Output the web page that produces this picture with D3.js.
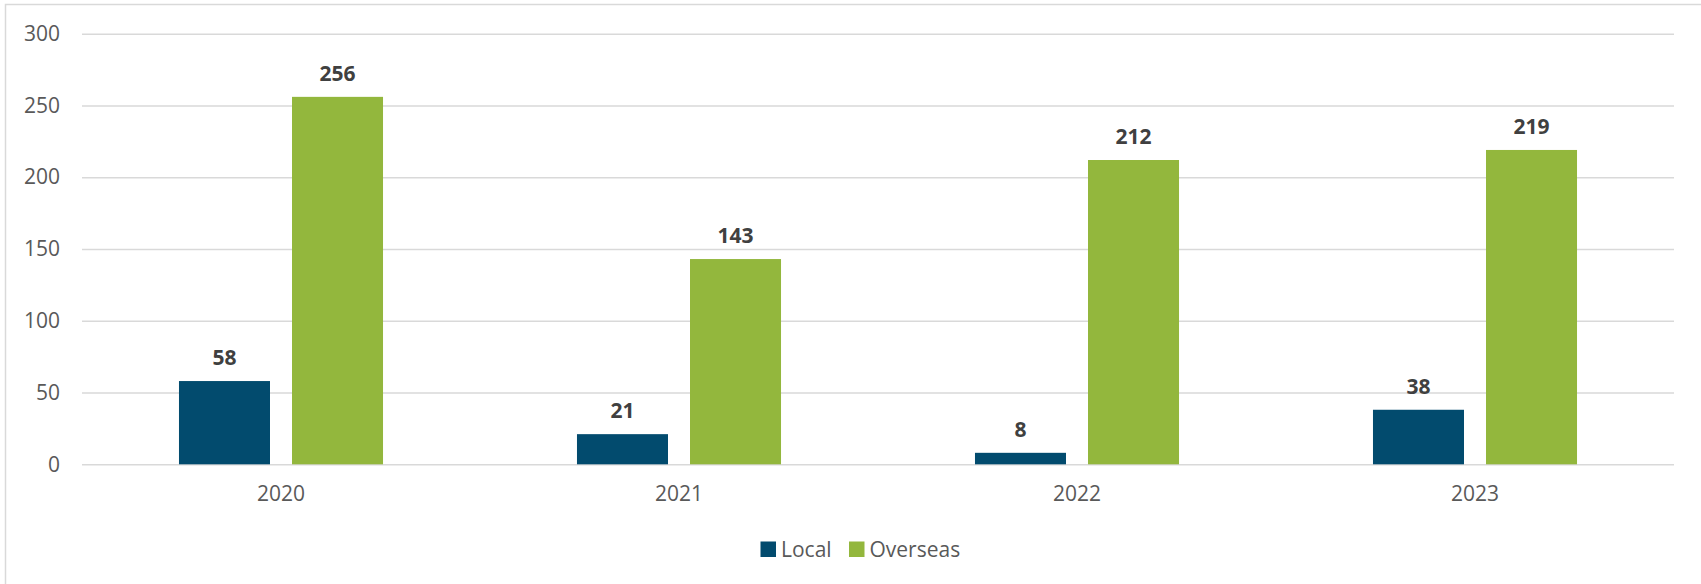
<!DOCTYPE html>
<html>
<head>
<meta charset="utf-8">
<script src="https://cdn.jsdelivr.net/npm/d3@7/dist/d3.min.js"></script>
<style>
  html, body { margin: 0; padding: 0; background: #ffffff; }
  svg { display: block; }
  text { font-family: "Open Sans", "Noto Sans", sans-serif; }
</style>
</head>
<body>
<svg id="chart" width="1701" height="584"></svg>
<script>
const categories = ["2020", "2021", "2022", "2023"];
const seriesNames = ["Local", "Overseas"];
const localValues = [58, 21, 8, 38];
const overseasValues = [256, 143, 212, 219];
const yTicks = [0, 50, 100, 150, 200, 250, 300];
const seriesColors = ["#024b6e", "#93b73d"];

const svg = d3.select("#chart");
const W = 1701, H = 584;
const plot = { left: 82, right: 1674, top: 33.7, bottom: 464.3 };

// chart border
svg.append("rect")
  .attr("x", 5.5).attr("y", 4.5)
  .attr("width", 1720).attr("height", 620)
  .attr("fill", "#ffffff")
  .attr("stroke", "#d9d9d9").attr("stroke-width", 1.5);

const y = d3.scaleLinear().domain([0, 300]).range([plot.bottom, plot.top]);
const x0 = d3.scaleBand().domain(categories).range([plot.left, plot.right]).padding(0);
const x1 = d3.scaleBand().domain(seriesNames).range([0, x0.bandwidth()])
  .paddingInner(22 / 113).paddingOuter(0.858);

// gridlines
const yAxis = d3.axisLeft(y).tickValues(yTicks).tickSize(-(plot.right - plot.left)).tickPadding(22);
const gy = svg.append("g").attr("transform", `translate(${plot.left},0)`).call(yAxis);
gy.select(".domain").remove();
gy.selectAll(".tick line").attr("stroke", "#d9d9d9").attr("stroke-width", 1.5);
gy.selectAll(".tick text")
  .attr("fill", "#595959")
  .style("font-size", "21px");

// x axis labels
const xAxis = d3.axisBottom(x0).tickSize(0).tickPadding(22);
const gx = svg.append("g").attr("transform", `translate(0,${plot.bottom})`).call(xAxis);
gx.select(".domain").remove();
gx.selectAll(".tick text").attr("fill", "#595959").style("font-size", "21px");

const rows = categories.map((c, i) => ({ cat: c, values: [localValues[i], overseasValues[i]] }));

const groups = svg.append("g").selectAll("g")
  .data(rows).join("g")
  .attr("transform", d => `translate(${x0(d.cat)},0)`);

groups.selectAll("rect")
  .data(d => d.values.map((v, j) => ({ name: seriesNames[j], v, j })))
  .join("rect")
  .attr("x", d => x1(d.name))
  .attr("width", x1.bandwidth())
  .attr("y", d => y(d.v))
  .attr("height", d => y(0) - y(d.v))
  .attr("fill", d => seriesColors[d.j]);

groups.selectAll("text.lbl")
  .data(d => d.values.map((v, j) => ({ name: seriesNames[j], v, j })))
  .join("text")
  .attr("class", "lbl")
  .attr("x", d => x1(d.name) + x1.bandwidth() / 2)
  .attr("y", d => y(d.v) - 16)
  .attr("text-anchor", "middle")
  .attr("fill", "#404040")
  .style("font-size", "21px")
  .style("font-weight", "bold")
  .text(d => d.v);

// legend
const legend = svg.append("g");
const legendItems = [
  { name: "Local", x: 760.5 },
  { name: "Overseas", x: 849 }
];
legendItems.forEach((it, i) => {
  legend.append("rect")
    .attr("x", it.x).attr("y", 541.5)
    .attr("width", 15.5).attr("height", 15.5)
    .attr("fill", seriesColors[i]);
  legend.append("text")
    .attr("x", it.x + 20.5).attr("y", 549.5)
    .attr("dy", "0.35em")
    .attr("fill", "#595959")
    .style("font-size", "21px")
    .text(it.name);
});
</script>
</body>
</html>
